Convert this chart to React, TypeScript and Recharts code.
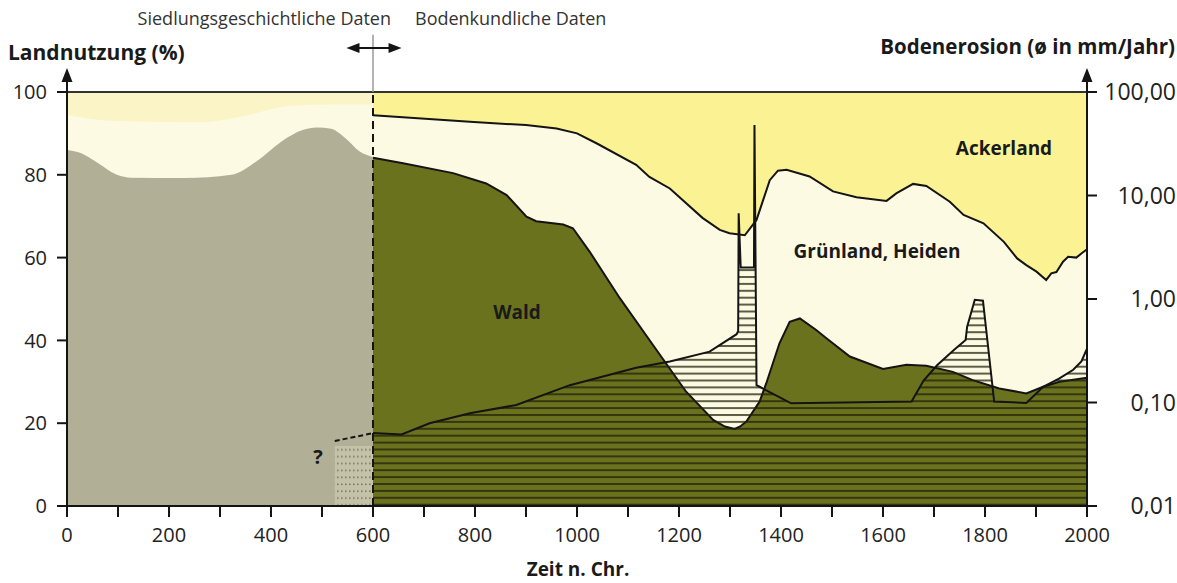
import React from 'react';
import { ComposedChart, Area, Line, XAxis, YAxis, ReferenceLine } from 'recharts';

const FONT = '"Open Sans", "Noto Sans", "DejaVu Sans", sans-serif';

// ---- Siedlungsgeschichtliche Daten (0 - 600) ----
const leftYears = [0, 28, 56, 98, 126, 231, 322, 371, 420, 462, 490, 518, 546, 574, 600];
const leftForestTop = [86, 85.2, 83.2, 80, 79.3, 79.2, 80, 83.2, 88, 90.8, 91.4, 91.1, 88.8, 85.6, 84.3];
const leftOpenYears = [0, 90, 270, 340, 440, 520, 600];
const leftOpenTop = [94.5, 93, 92.7, 94, 96.7, 97, 97];
const leftFieldYears = [0, 600];
const leftFieldTop = [100, 100];
const unknownYears = [525, 600];
const unknownTop = [14.5, 14.5];
const unknownLinkYears = [525, 600];
const unknownLink = [15.7, 17.6];

// ---- Bodenkundliche Daten (600 - 2000) ----
const fieldYears = [600, 2000];
const fieldTop = [100, 100];
const grassYears = [600, 790, 900, 960, 1000, 1040, 1116, 1142, 1182, 1246, 1280, 1299, 1329, 1352, 1378, 1394, 1411, 1456, 1502, 1548, 1607, 1626, 1659, 1685, 1731, 1758, 1797, 1837, 1863, 1881, 1901, 1920, 1930, 1940, 1953, 1963, 1979, 1989, 2000];
const grassTop = [94.4, 92.8, 92.0, 91.2, 90.0, 87.5, 82.4, 79.5, 76.7, 69.6, 66.7, 65.9, 65.4, 69.1, 78.7, 81, 81.2, 79.6, 76, 74.6, 73.7, 75.5, 77.8, 77.3, 73.5, 70.3, 68.3, 63.8, 59.8, 58.2, 56.6, 54.6, 56.2, 56.5, 59, 60.2, 60, 61, 62];
const forestYears = [600, 659, 757, 822, 862, 901, 920, 973, 992, 1025, 1084, 1149, 1214, 1267, 1290, 1309, 1320, 1332, 1358, 1371, 1397, 1417, 1437, 1469, 1489, 1535, 1600, 1646, 1685, 1737, 1776, 1828, 1881, 1914, 1946, 2000];
const forestTop = [84.1, 82.8, 80.4, 77.9, 75.1, 69.9, 68.8, 68.0, 67.1, 61.4, 50.2, 38.9, 27.6, 20.8, 19.2, 18.6, 19.2, 20.4, 25.2, 29.6, 39.3, 44.5, 45.3, 42.5, 40.5, 36.1, 33.1, 34.1, 33.9, 32.4, 30.4, 28.4, 27.2, 28.8, 30.0, 31];
const erosionYears = [600, 656, 711, 790, 881, 986, 1116, 1182, 1260, 1313, 1316, 1317, 1321, 1347, 1348, 1352, 1358, 1420, 1656, 1680, 1706, 1739, 1762, 1765, 1780, 1796, 1818, 1881, 1914, 1946, 1973, 1989, 2000];
const erosionRate = [0.0506, 0.0492, 0.0631, 0.0787, 0.0946, 0.147, 0.217, 0.249, 0.31, 0.457, 0.492, 6.73, 2.01, 2.01, 47.9, 0.147, 0.142, 0.0982, 0.102, 0.164, 0.229, 0.322, 0.402, 0.54, 0.982, 0.964, 0.102, 0.0991, 0.142, 0.171, 0.207, 0.249, 0.331];

const xTicks = [0, 100, 200, 300, 400, 500, 600, 700, 800, 900, 1000, 1100, 1200, 1300, 1400, 1500, 1600, 1700, 1800, 1900, 2000];
const leftTicks = [0, 20, 40, 60, 80, 100];
const rightTicks = [0.01, 0.1, 1, 10, 100];

const zip = (xs: number[], ys: number[]) => xs.map((x, i) => ({ x, v: ys[i] }));

const leftFieldData = zip(leftFieldYears, leftFieldTop);
const leftOpenData = zip(leftOpenYears, leftOpenTop);
const leftForestData = zip(leftYears, leftForestTop);
const unknownData = zip(unknownYears, unknownTop);
const unknownLinkData = zip(unknownLinkYears, unknownLink);
const fieldData = zip(fieldYears, fieldTop);
const grassData = zip(grassYears, grassTop);
const forestData = zip(forestYears, forestTop);
const erosionData = zip(erosionYears, erosionRate);

const C = {
  leftField: '#fbf4c6',
  cream: '#fdfae4',
  gray: '#b1b096',
  field: '#fbf294',
  forest: '#6b721e',
  ink: '#141414',
};

const ArrowUp = (p: any) => {
  const { x1, y1, x2, y2 } = p;
  return (
    <g>
      <line x1={x1} y1={y1} x2={x2} y2={y2 + 6} stroke={C.ink} strokeWidth={2} />
      <polygon points={`${x2},${y2} ${x2 - 5.5},${y2 + 14} ${x2 + 5.5},${y2 + 14}`} fill={C.ink} />
    </g>
  );
};

const DoubleArrow = (p: any) => {
  const { x1, y1, x2, y2 } = p;
  return (
    <g>
      <line x1={x1 + 6} y1={y1} x2={x2 - 6} y2={y2} stroke={C.ink} strokeWidth={2} />
      <polygon points={`${x1},${y1} ${x1 + 13},${y1 - 5} ${x1 + 13},${y1 + 5}`} fill={C.ink} />
      <polygon points={`${x2},${y2} ${x2 - 13},${y2 - 5} ${x2 - 13},${y2 + 5}`} fill={C.ink} />
    </g>
  );
};

const GrayLine = (p: any) => {
  const { x1, y1, x2, y2 } = p;
  return <line x1={x1} y1={y1} x2={x2} y2={y2} stroke="#9a9a9a" strokeWidth={1.5} />;
};

const fmtRight = (v: number) => v.toFixed(2).replace('.', ',');
const fmtX = (v: number) => (v % 200 === 0 ? String(v) : '');

export default function App() {
  return (
    <div style={{ position: 'relative', width: 1177, height: 583, overflow: 'hidden', background: '#fff', fontFamily: FONT }}>
      <style>{'body{margin:0}'}</style>
      <ComposedChart width={1177} height={583} margin={{ top: 92, right: 0, bottom: 27, left: 0 }}>
        <defs>
          <pattern id="hatch" patternUnits="userSpaceOnUse" width="8" height="6.9" y="0">
            <rect x="0" y="0" width="8" height="2" fill="rgba(30,32,8,0.72)" />
          </pattern>
          <pattern id="dots" patternUnits="userSpaceOnUse" width="4" height="6.9">
            <rect x="0" y="0" width="4" height="6.9" fill="#c4c3aa" />
            <rect x="1" y="0.5" width="1.6" height="1.6" fill="#7b7a62" />
          </pattern>
        </defs>
        <XAxis
          xAxisId="x"
          dataKey="x"
          type="number"
          domain={[0, 2000]}
          ticks={xTicks}
          tickFormatter={fmtX}
          interval={0}
          height={50}
          tickSize={11}
          tickMargin={11}
          axisLine={{ stroke: C.ink, strokeWidth: 2 }}
          tickLine={{ stroke: C.ink, strokeWidth: 2 }}
          tick={{ fontSize: 20, fill: '#222', fontFamily: FONT }}
          allowDataOverflow
        />
        <YAxis
          yAxisId="left"
          type="number"
          domain={[0, 100]}
          ticks={leftTicks}
          interval={0}
          width={67}
          tickSize={10}
          tickMargin={10}
          axisLine={{ stroke: C.ink, strokeWidth: 2 }}
          tickLine={{ stroke: C.ink, strokeWidth: 2 }}
          tick={{ fontSize: 20, fill: '#222', fontFamily: FONT }}
          allowDataOverflow
        />
        <YAxis
          yAxisId="right"
          orientation="right"
          type="number"
          scale="log"
          domain={[0.01, 100]}
          ticks={rightTicks}
          interval={0}
          width={90}
          tickSize={10}
          tickMargin={79}
          tickFormatter={fmtRight}
          axisLine={{ stroke: C.ink, strokeWidth: 2 }}
          tickLine={{ stroke: C.ink, strokeWidth: 2 }}
          tick={{ fontSize: 23, fill: '#222', fontFamily: FONT, textAnchor: 'end' }}
          allowDataOverflow
        />

        <Area xAxisId="x" yAxisId="left" data={leftFieldData} dataKey="v" type="linear" fill={C.leftField} fillOpacity={1} stroke="none" isAnimationActive={false} />
        <Area xAxisId="x" yAxisId="left" data={leftOpenData} dataKey="v" type="monotone" fill={C.cream} fillOpacity={1} stroke="none" isAnimationActive={false} />
        <Area xAxisId="x" yAxisId="left" data={leftForestData} dataKey="v" type="monotone" fill={C.gray} fillOpacity={1} stroke="none" isAnimationActive={false} />
        <Area xAxisId="x" yAxisId="left" data={unknownData} dataKey="v" type="linear" fill="url(#dots)" fillOpacity={1} stroke="none" isAnimationActive={false} />
        <Line xAxisId="x" yAxisId="left" data={unknownLinkData} dataKey="v" type="linear" stroke={C.ink} strokeWidth={2} strokeDasharray="5 3" dot={false} isAnimationActive={false} />

        <Area xAxisId="x" yAxisId="left" data={fieldData} dataKey="v" type="linear" fill={C.field} fillOpacity={1} stroke="none" isAnimationActive={false} />
        <Area xAxisId="x" yAxisId="left" data={grassData} dataKey="v" type="linear" fill={C.cream} fillOpacity={1} stroke={C.ink} strokeWidth={2} isAnimationActive={false} />
        <Area xAxisId="x" yAxisId="left" data={forestData} dataKey="v" type="linear" fill={C.forest} fillOpacity={1} stroke={C.ink} strokeWidth={2} isAnimationActive={false} />
        <Area xAxisId="x" yAxisId="right" data={erosionData} dataKey="v" type="linear" baseValue={0.01} fill="url(#hatch)" fillOpacity={1} stroke={C.ink} strokeWidth={2} isAnimationActive={false} />

        <ReferenceLine xAxisId="x" yAxisId="left" y={100} stroke="#333" strokeWidth={2} />
        <ReferenceLine xAxisId="x" yAxisId="left" x={600} stroke={C.ink} strokeWidth={2} strokeDasharray="8 5" />
        <ReferenceLine xAxisId="x" yAxisId="left" segment={[{ x: 600, y: 100 }, { x: 600, y: 113.8 }]} ifOverflow="visible" shape={GrayLine} />
        <ReferenceLine xAxisId="x" yAxisId="left" segment={[{ x: 548, y: 110.6 }, { x: 656, y: 110.6 }]} ifOverflow="visible" shape={DoubleArrow} />
        <ReferenceLine xAxisId="x" yAxisId="left" segment={[{ x: 0, y: 99 }, { x: 0, y: 105.8 }]} ifOverflow="visible" shape={ArrowUp} />
        <ReferenceLine xAxisId="x" yAxisId="left" segment={[{ x: 2000, y: 99 }, { x: 2000, y: 105.8 }]} ifOverflow="visible" shape={ArrowUp} />
      </ComposedChart>

      <svg width={1177} height={583} style={{ position: 'absolute', left: 0, top: 0, pointerEvents: 'none' }}>
        <g fontFamily={FONT} fill="#1a1a1a">
          <text x={391} y={25} fontSize={18} textAnchor="end" fill="#333">Siedlungsgeschichtliche Daten</text>
          <text x={415} y={25} fontSize={18} textAnchor="start" fill="#333">Bodenkundliche Daten</text>
          <text x={8} y={60} fontSize={21} fontWeight="bold">Landnutzung (%)</text>
          <text x={1175} y={54} fontSize={20.5} fontWeight="bold" textAnchor="end">Bodenerosion (ø in mm/Jahr)</text>
          <text x={578} y={576} fontSize={19} fontWeight="bold" textAnchor="middle">Zeit n. Chr.</text>
          <text x={517} y={319} fontSize={19} fontWeight="bold" textAnchor="middle">Wald</text>
          <text x={877} y={258} fontSize={19} fontWeight="bold" textAnchor="middle">Grünland, Heiden</text>
          <text x={1004} y={155} fontSize={19} fontWeight="bold" textAnchor="middle">Ackerland</text>
          <text x={318} y={464} fontSize={20} fontWeight="bold" textAnchor="middle">?</text>
        </g>
      </svg>
    </div>
  );
}
